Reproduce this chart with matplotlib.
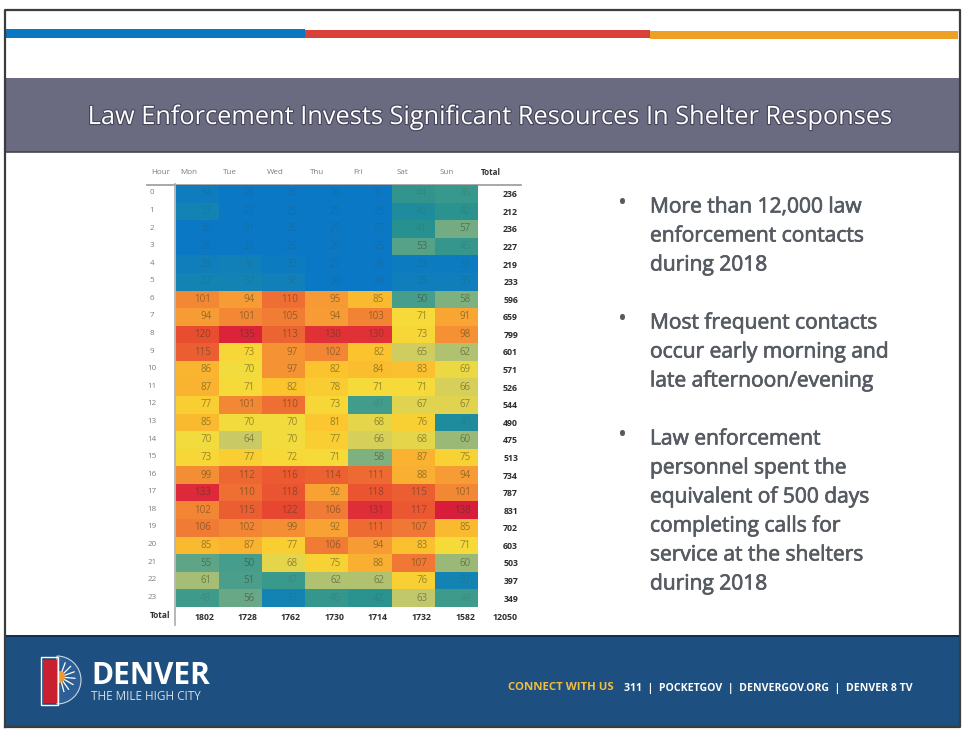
import matplotlib
matplotlib.use("Agg")
import matplotlib.pyplot as plt
import matplotlib.patheffects as pe
from matplotlib.colors import LinearSegmentedColormap
from matplotlib.patches import Rectangle, Wedge, Polygon
import numpy as np

days = ["Mon", "Tue", "Wed", "Thu", "Fri", "Sat", "Sun"]
hours = [str(h) for h in range(24)]
row_totals = [236,212,236,227,219,233,596,659,799,601,571,526,544,490,475,513,734,787,831,702,603,503,397,349]
col_totals = [1802,1728,1762,1730,1714,1732,1582]
grand_total = 12050
contacts = [
 [34,28,26,26,31,44,46],
 [37,27,25,25,25,40,42],
 [30,31,26,25,27,41,57],
 [28,27,25,26,25,53,45],
 [35,36,33,27,26,33,33],
 [37,37,36,30,28,35,35],
 [101,94,110,95,85,50,58],
 [94,101,105,94,103,71,91],
 [120,135,113,130,130,73,98],
 [115,73,97,102,82,65,62],
 [86,70,97,82,84,83,69],
 [87,71,82,78,71,71,66],
 [77,101,110,73,49,67,67],
 [85,70,70,81,68,76,40],
 [70,64,70,77,66,68,60],
 [73,77,72,71,58,87,75],
 [99,112,116,114,111,88,94],
 [133,110,118,92,118,115,101],
 [102,115,122,106,131,117,138],
 [106,102,99,92,111,107,85],
 [85,87,77,106,94,83,71],
 [55,50,68,75,88,107,60],
 [61,51,47,62,62,76,37],
 [48,56,37,45,42,63,48],
]
bullets = [
 ["More than 12,000 law", "enforcement contacts", "during 2018"],
 ["Most frequent contacts", "occur early morning and", "late afternoon/evening"],
 ["Law enforcement", "personnel spent the", "equivalent of 500 days", "completing calls for", "service at the shelters", "during 2018"],
]
title = "Law Enforcement Invests Significant Resources In Shelter Responses"

W, H = 964, 729
fig = plt.figure(figsize=(W/100, H/100), dpi=100, facecolor="white")
plt.rcParams["font.family"] = ["Open Sans", "DejaVu Sans"]

bg = fig.add_axes([0, 0, 1, 1])
bg.set_xlim(0, W); bg.set_ylim(H, 0); bg.axis("off")

def rect(x0, y0, x1, y1, c, z=1):
    bg.add_patch(Rectangle((x0, y0), x1-x0, y1-y0, fc=c, ec="none", zorder=z))

# slide frame, colour stripe, banner, footer
rect(5, 10, 960, 727, "white", 0)
rect(5, 29, 305, 38, "#0a77c0")
rect(305, 30, 650, 38, "#d9403a")
rect(650, 31, 958, 39, "#ee9f26")
rect(5, 78, 960, 152, "#6a6a80")
bg.plot([5, 960], [152, 152], color="#44444f", lw=1.2)
rect(5, 636, 960, 727, "#1d4f80")
bg.plot([5, 960], [636, 636], color="#102c4c", lw=1.4)
bg.plot([5, 5, 960, 960, 5], [727, 10, 10, 727, 727], color="#3c3c3c", lw=1.6, zorder=5)

bg.text(490, 117.5, title, color="white", fontsize=18.25, ha="center", va="center",
        path_effects=[pe.withStroke(linewidth=1.6, foreground="#45455a")])

# bullet text
y = 207
for group in bullets:
    bg.text(623, y-3, "•", fontsize=17, color="#555b60", ha="center", va="center")
    for line in group:
        bg.text(650, y, line, fontsize=15.1, color="#565b62", ha="left", va="center",
                path_effects=[pe.withStroke(linewidth=0.5, foreground="#565b62")])
        y += 29
    y += 29

# heatmap
cmap = LinearSegmentedColormap.from_list("heat", [
    (0.00, "#0a78c4"), (0.06, "#0a78c4"), (0.115, "#1585b0"), (0.14, "#27918f"),
    (0.20, "#3c9a8c"), (0.27, "#62a688"), (0.34, "#c5c86a"), (0.40, "#f5dc3a"),
    (0.50, "#fbc52e"), (0.60, "#f89f34"), (0.72, "#f07a34"), (0.85, "#e84a30"),
    (1.00, "#d81c3c")])
data = np.array(contacts)
x0, x1, y0, y1 = 175.5, 478, 185, 607
ax = fig.add_axes([x0/W, 1-y1/H, (x1-x0)/W, (y1-y0)/H])
ax.pcolormesh(data, cmap=cmap, vmin=25, vmax=138)
ax.set_xlim(0, 7); ax.set_ylim(24, 0); ax.axis("off")
for r, row in enumerate(contacts):
    for c, v in enumerate(row):
        ax.text(c+0.83, r+0.5, str(v), ha="right", va="center", fontsize=7,
                color="#3a3a1c", alpha=0.14 if v < 50 else 0.5)

# row and column labels in pixel space
step_y = (y1-y0)/24
step_x = (x1-x0)/7
grey = "#7c7c7c"
for i, h in enumerate(hours):
    bg.text(152, y0+step_y*(i+0.45), h, fontsize=5.8, color=grey, ha="center", va="center")
for i, t in enumerate(row_totals):
    bg.text(518, y0+step_y*(i+0.55), str(t), fontsize=6.3, color="#2e2e2e", ha="right",
            va="center", fontweight="bold")
bg.text(161, 172, "Hour", fontsize=5.8, color=grey, ha="center", va="center")
for i, d in enumerate(days):
    bg.text(180+i*43.3, 172, d, fontsize=5.8, color=grey, ha="left", va="center")
bg.text(491, 172, "Total", fontsize=5.8, color="#333333", ha="center", va="center", fontweight="bold")
bg.plot([147, 521], [184.5, 184.5], color="#999999", lw=1.2)
bg.plot([174.5, 174.5], [184, 625], color="#aaaaaa", lw=1.2)
bg.text(160, 616, "Total", fontsize=6, color="#333333", ha="center", va="center", fontweight="bold")
for i, t in enumerate(col_totals):
    bg.text(204+i*43.5, 618, str(t), fontsize=6.3, color="#2e2e2e", ha="center", va="center", fontweight="bold")
bg.text(518, 618, str(grand_total), fontsize=6.3, color="#2e2e2e", ha="right", va="center", fontweight="bold")

# footer logo and text
bg.add_patch(Wedge((57, 680), 24, -90, 90, fc="#2c5f95", ec="#c9d6e4", lw=0.8, zorder=2))
for ang in (-70, -45, -20, 5, 30, 55, 75):
    a = np.deg2rad(ang)
    bg.plot([60, 60+15*np.cos(a)], [677, 677+15*np.sin(a)], color="white", lw=0.9, zorder=3)
bg.add_patch(Wedge((59, 677), 6, -90, 90, fc="#ef9a2d", ec="none", zorder=4))
rect(43, 660, 57, 703, "#c8202f", 4)
bg.add_patch(Rectangle((41, 657), 17, 48, fc="none", ec="white", lw=1, zorder=5))
bg.text(91, 676, "DENVER", fontsize=21.5, color="white", fontweight="bold", ha="left", va="center")
bg.text(91, 696, "THE MILE HIGH CITY", fontsize=8.5, color="#d5dde6", ha="left", va="center")
bg.text(508, 688, "CONNECT WITH US", fontsize=8.2, color="#f2bd3c", ha="left", va="center", fontweight="bold")
bg.text(624, 688, "311  |  POCKETGOV  |  DENVERGOV.ORG  |  DENVER 8 TV", fontsize=7.6, color="white",
        ha="left", va="center", fontweight="bold")

fig.savefig("out.png", dpi=100)
